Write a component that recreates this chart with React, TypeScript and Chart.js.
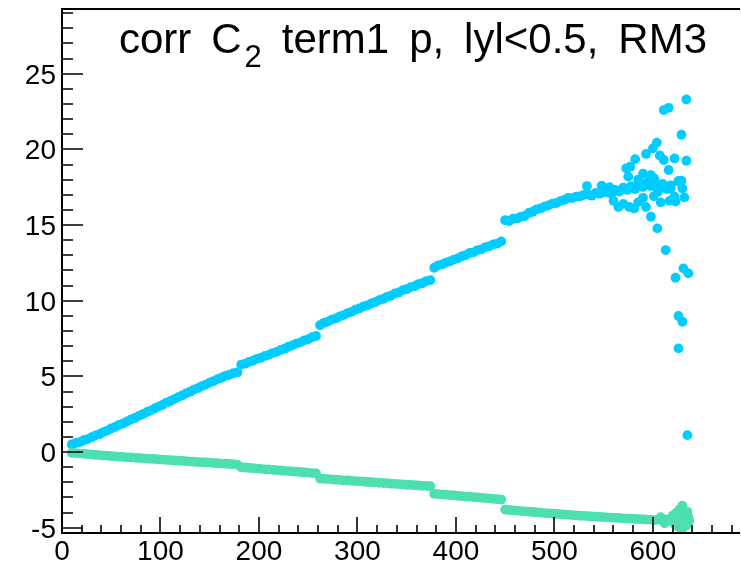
import { useEffect, useRef } from "react";
import { Chart, registerables } from "chart.js";

Chart.register(...registerables);

// ---------- data ----------
const binX = [
  10, 14, 18, 22, 26, 30, 34, 38, 42, 46, 50, 54, 58, 62, 66, 70, 74, 78, 82, 86,
  90, 94, 98, 102, 106, 110, 114, 118, 122, 126, 130, 134, 138, 142, 146, 150, 154, 158, 162, 166,
  170, 174, 178,
  182, 186, 190, 194, 198, 202, 206, 210, 214, 218, 222, 226, 230, 234, 238, 242, 246, 250, 254, 258,
  262, 266, 270, 274, 278, 282, 286, 290, 294, 298, 302, 306, 310, 314, 318, 322, 326, 330, 334, 338,
  342, 346, 350, 354, 358, 362, 366, 370, 374,
  378, 382, 386, 390, 394, 398, 402, 406, 410, 414, 418, 422, 426, 430, 434, 438, 442, 446,
  450, 454, 458, 462, 466, 470, 474, 478, 482, 486, 490, 494, 498, 502, 506, 510, 514, 518, 522, 526,
  530, 534, 538, 542, 546, 550, 554, 558, 562, 566, 570, 574, 578, 582, 586, 590, 594, 598, 602, 606,
  610, 614, 618, 622, 626, 630,
];

const cyanY = [
  0.50, 0.60, 0.66, 0.78, 0.86, 0.98, 1.10, 1.18, 1.32, 1.42, 1.56, 1.66, 1.80, 1.89, 2.02, 2.15, 2.25, 2.39, 2.50, 2.64,
  2.74, 2.88, 3.00, 3.11, 3.26, 3.36, 3.50, 3.63, 3.74, 3.88, 3.99, 4.13, 4.23, 4.36, 4.46, 4.59, 4.69, 4.82, 4.91, 5.04,
  5.11, 5.21, 5.26,
  5.78, 5.84, 5.96, 6.04, 6.16, 6.23, 6.35, 6.42, 6.54, 6.62, 6.75, 6.83, 6.96, 7.05, 7.17, 7.25, 7.38, 7.46, 7.59, 7.67,
  8.38, 8.54, 8.62, 8.75, 8.83, 8.96, 9.05, 9.18, 9.27, 9.41, 9.49, 9.62, 9.69, 9.82, 9.90, 10.04, 10.12, 10.26, 10.33, 10.48,
  10.55, 10.70, 10.76, 10.90, 10.96, 11.10, 11.16, 11.30, 11.36,
  12.18, 12.34, 12.40, 12.52, 12.60, 12.72, 12.80, 12.94, 13.01, 13.16, 13.20, 13.35, 13.40, 13.54, 13.60, 13.72, 13.78, 13.92,
  15.32, 15.26, 15.42, 15.44, 15.55, 15.60, 15.80, 15.88, 16.04, 16.10, 16.22, 16.30, 16.42, 16.46, 16.58, 16.66, 16.80, 16.78, 16.88, 16.90,
  17.00, 17.02, 16.94, 17.12, 17.06, 17.18, 17.16, 17.06, 17.32, 17.22, 17.48, 17.32, 17.58, 17.38, 17.72, 17.52, 17.82, 17.58, 17.92, 17.48,
  17.72, 17.38, 17.62, 16.88, 17.92, 17.42,
];

const greenY = [
  -0.06, -0.07, -0.10, -0.11, -0.14, -0.16, -0.19, -0.20, -0.23, -0.24, -0.27, -0.28, -0.31, -0.32, -0.35, -0.36, -0.38, -0.39, -0.42, -0.43,
  -0.45, -0.46, -0.49, -0.50, -0.52, -0.53, -0.56, -0.57, -0.59, -0.60, -0.63, -0.64, -0.66, -0.67, -0.69, -0.70, -0.73, -0.74, -0.76, -0.77,
  -0.79, -0.80, -0.83,
  -1.00, -1.02, -1.05, -1.06, -1.09, -1.11, -1.14, -1.15, -1.18, -1.19, -1.22, -1.24, -1.26, -1.28, -1.30, -1.32, -1.35, -1.36, -1.39, -1.41,
  -1.75, -1.77, -1.79, -1.80, -1.83, -1.84, -1.87, -1.88, -1.90, -1.92, -1.94, -1.95, -1.98, -1.99, -2.01, -2.03, -2.05, -2.06, -2.09, -2.10,
  -2.12, -2.14, -2.16, -2.17, -2.19, -2.21, -2.23, -2.24, -2.26,
  -2.76, -2.78, -2.80, -2.82, -2.85, -2.86, -2.89, -2.91, -2.94, -2.95, -2.98, -3.00, -3.03, -3.04, -3.07, -3.09, -3.12, -3.14,
  -3.80, -3.83, -3.85, -3.87, -3.90, -3.92, -3.94, -3.96, -3.99, -4.01, -4.03, -4.05, -4.07, -4.09, -4.11, -4.13, -4.15, -4.17, -4.19, -4.21,
  -4.22, -4.24, -4.26, -4.27, -4.29, -4.30, -4.32, -4.33, -4.35, -4.36, -4.38, -4.39, -4.40, -4.42, -4.43, -4.44, -4.46, -4.47, -4.50, -4.46,
  -4.52, -4.45, -4.55, -4.40, -4.60, -4.35,
];

// scattered points at the high-x end
const cyanTailX = [
  634, 611, 616, 629, 604, 600, 593, 582, 634, 622, 607, 611, 616, 573, 577, 626, 629, 618, 632, 533,
  598, 601, 576, 581, 565, 593, 598, 604.5, 613, 623, 631, 636, 626, 630, 626, 635, 608, 617, 623, 601,
  605, 560, 570, 585, 590, 575, 585, 590, 548, 556,
];
const cyanTailY = [
  23.3, 22.6, 22.75, 20.97, 20.45, 20.07, 19.7, 19.36, 19.25, 19.4, 19.6, 19.3, 18.64, 18.75, 18.86, 17.87, 17.93, 17.4, 16.83, 17.58,
  18.3, 18.1, 16.2, 16.1, 16.2, 16.2, 15.55, 14.78, 13.35, 11.52, 12.14, 11.81, 8.99, 8.61, 6.85, 1.12, 16.5, 16.6, 16.55, 16.9,
  17.2, 16.6, 16.4, 16.5, 16.8, 18.2, 18.0, 18.4, 17.6, 17.5,
];
const greenTailX = [620, 624, 627, 629, 631, 633, 636, 626, 630, 634, 622, 637, 628, 632, 635, 612, 608, 630];
const greenTailY = [-4.2, -4.0, -3.8, -3.65, -3.85, -4.1, -4.3, -4.95, -5.05, -4.85, -4.75, -4.55, -4.45, -4.65, -3.95, -4.7, -4.3, -3.55];

const xTickLabels = [0, 100, 200, 300, 400, 500, 600];
const yTickLabels = [-5, 0, 5, 10, 15, 20, 25];

const X_MIN = 0;
const X_MAX = 684.5;
const Y_MIN = -5.35;
const Y_MAX = 29.28;

const TITLE_PARTS: { t: string; sub?: string }[] = [
  { t: "corr" },
  { t: "C", sub: "2" },
  { t: "term1" },
  { t: "p," },
  { t: "lyl<0.5," },
  { t: "RM3" },
];

const CYAN = "rgb(0,204,255)";
const GREEN = "rgb(77,222,178)";
const FONT = '"Liberation Sans", Arial, Helvetica, sans-serif';

const rootAxes = {
  id: "rootAxes",
  afterDatasetsDraw(chart: any) {
    const { ctx, chartArea: a, scales } = chart;
    const xs = scales.x;
    const ys = scales.y;
    ctx.save();
    ctx.strokeStyle = "#000";
    ctx.lineWidth = 2;
    ctx.beginPath();
    ctx.moveTo(a.right + 4, a.top);
    ctx.lineTo(a.left, a.top);
    ctx.lineTo(a.left, a.bottom);
    ctx.lineTo(a.right + 4, a.bottom);
    ctx.stroke();

    // x ticks
    ctx.lineWidth = 1.6;
    ctx.beginPath();
    for (let v = 0; v <= X_MAX; v += 20) {
      const px = Math.round(xs.getPixelForValue(v));
      const len = v % 100 === 0 ? 16 : 8;
      ctx.moveTo(px, a.bottom);
      ctx.lineTo(px, a.bottom - len);
    }
    // y ticks
    for (let v = -5; v <= Y_MAX; v += 1) {
      const py = Math.round(ys.getPixelForValue(v));
      const len = v % 5 === 0 ? 21 : 11;
      ctx.moveTo(a.left, py);
      ctx.lineTo(a.left + len, py);
    }
    ctx.stroke();

    // labels
    ctx.fillStyle = "#000";
    ctx.font = `28px ${FONT}`;
    ctx.textAlign = "right";
    ctx.textBaseline = "alphabetic";
    for (const v of yTickLabels) {
      const py = ys.getPixelForValue(v);
      ctx.fillText(String(v), 56, py + 10);
    }
    ctx.textAlign = "center";
    for (const v of xTickLabels) {
      const px = xs.getPixelForValue(v);
      ctx.fillText(String(v), px, 560);
    }

    // title
    const mainFont = `42px ${FONT}`;
    const subFont = `31px ${FONT}`;
    const widths = TITLE_PARTS.map((p) => {
      ctx.font = mainFont;
      let w = ctx.measureText(p.t).width;
      if (p.sub) {
        ctx.font = subFont;
        w += 3 + ctx.measureText(p.sub).width;
      }
      return w;
    });
    const left = 119;
    const right = 707;
    const total = widths.reduce((s, w) => s + w, 0);
    const gap = (right - left - total) / (TITLE_PARTS.length - 1);
    let x = left;
    ctx.textAlign = "left";
    TITLE_PARTS.forEach((p, i) => {
      ctx.font = mainFont;
      ctx.fillText(p.t, x, 53);
      if (p.sub) {
        const w0 = ctx.measureText(p.t).width;
        ctx.font = subFont;
        ctx.fillText(p.sub, x + w0 + 3, 67);
      }
      x += widths[i] + gap;
    });
    ctx.restore();
  },
};

export default function App() {
  const ref = useRef<HTMLCanvasElement | null>(null);
  useEffect(() => {
    if (!ref.current) return;
    const cyanPts = binX.map((x, i) => ({ x, y: cyanY[i] }))
      .concat(cyanTailX.map((x, i) => ({ x, y: cyanTailY[i] })));
    const greenPts = binX.map((x, i) => ({ x, y: greenY[i] }))
      .concat(greenTailX.map((x, i) => ({ x, y: greenTailY[i] })));
    const chart = new Chart(ref.current, {
      type: "scatter",
      data: {
        datasets: [
          { label: "term1 p (green)", data: greenPts, backgroundColor: GREEN, borderWidth: 0, pointRadius: 4.9 },
          { label: "term1 p (cyan)", data: cyanPts, backgroundColor: CYAN, borderWidth: 0, pointRadius: 4.9 },
        ],
      },
      options: {
        responsive: false,
        animation: false,
        devicePixelRatio: 1,
        events: [],
        layout: { padding: { left: 62, top: 9, right: 0, bottom: 31 } },
        plugins: { legend: { display: false }, tooltip: { enabled: false }, title: { display: false } },
        scales: {
          x: { type: "linear", min: X_MIN, max: X_MAX, display: false },
          y: { type: "linear", min: Y_MIN, max: Y_MAX, display: false },
        },
      },
      plugins: [rootAxes],
    });
    return () => chart.destroy();
  }, []);
  return (
    <div style={{ position: "absolute", left: 0, top: 0, width: 741, height: 564, background: "#fff" }}>
      <canvas ref={ref} width={741} height={564} style={{ display: "block" }} />
    </div>
  );
}
